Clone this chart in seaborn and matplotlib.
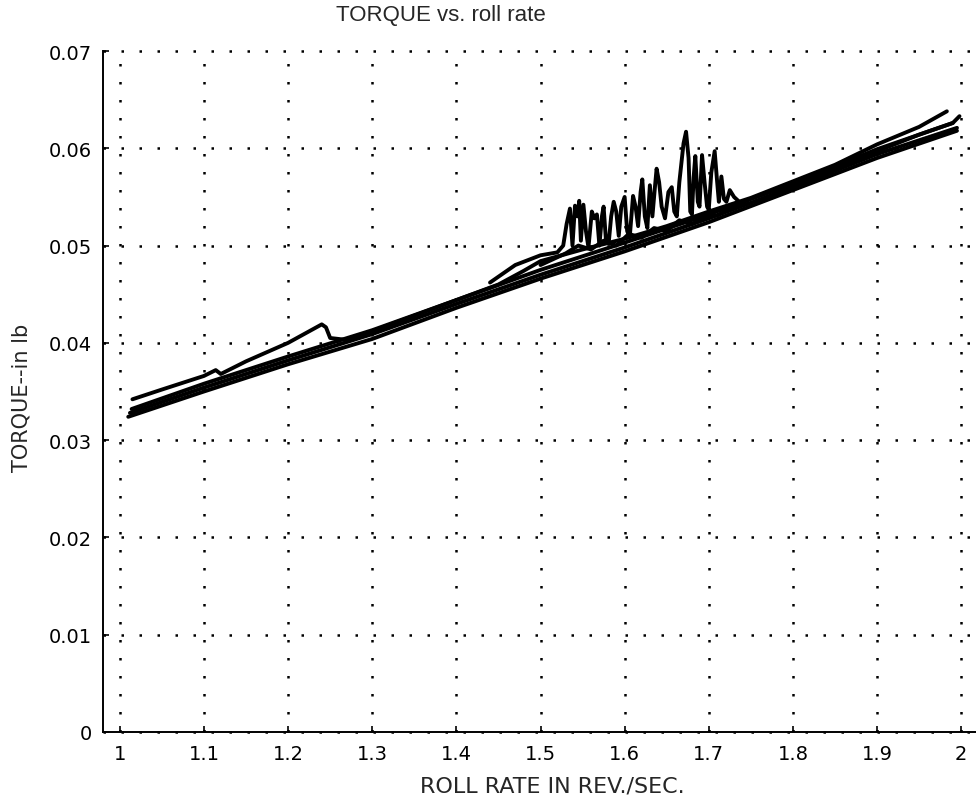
import numpy as np
import pandas as pd
import matplotlib
matplotlib.use("Agg")
import matplotlib.pyplot as plt
import seaborn as sns

# Roll-rate sweeps (rev/sec) and measured torque (in-lb), one list pair per run
run1_x = [1.010, 1.10, 1.20, 1.30, 1.40, 1.50, 1.60, 1.70, 1.80, 1.90, 1.995]
run1_y = [0.0324, 0.0350, 0.0378, 0.0404, 0.0436, 0.0466, 0.0494, 0.0524, 0.0557, 0.0590, 0.0618]

run2_x = [1.012, 1.10, 1.20, 1.30, 1.40, 1.50, 1.60, 1.70, 1.80, 1.90, 1.995]
run2_y = [0.0328, 0.0354, 0.0382, 0.0409, 0.0440, 0.0470, 0.0498, 0.0528, 0.0560, 0.0594, 0.0621]

run3_x = [1.014, 1.10, 1.20, 1.30, 1.40, 1.50, 1.60, 1.70, 1.80, 1.90, 1.990, 1.998]
run3_y = [0.0332, 0.0358, 0.0386, 0.0413, 0.0444, 0.0475, 0.0503, 0.0532, 0.0564, 0.0599, 0.0626, 0.0633]

run4_x = [1.015, 1.05, 1.10, 1.114, 1.12, 1.15, 1.20, 1.24, 1.245, 1.25, 1.27, 1.30,
          1.35, 1.40, 1.45, 1.48, 1.50, 1.55, 1.60, 1.65, 1.70, 1.75, 1.80, 1.85,
          1.90, 1.95, 1.983]
run4_y = [0.0342, 0.0352, 0.0366, 0.0372, 0.0368, 0.0381, 0.0400, 0.0419, 0.0416, 0.0405,
          0.0403, 0.0412, 0.0428, 0.0444, 0.0460, 0.0474, 0.0484, 0.0496, 0.0507, 0.0520,
          0.0535, 0.0549, 0.0566, 0.0583, 0.0604, 0.0622, 0.0638]

run5_x = [1.44, 1.47, 1.50, 1.52, 1.527, 1.531, 1.535, 1.538, 1.541, 1.544, 1.546, 1.548,
          1.551, 1.554, 1.557, 1.561, 1.564, 1.567, 1.570, 1.573, 1.575, 1.578, 1.581,
          1.584, 1.587, 1.590, 1.593, 1.596, 1.600, 1.603, 1.606, 1.610, 1.613, 1.616,
          1.619, 1.621, 1.624, 1.627, 1.630, 1.633, 1.636, 1.638, 1.641, 1.644, 1.648,
          1.652, 1.656, 1.659, 1.662, 1.665, 1.667, 1.670, 1.673, 1.676, 1.678, 1.680,
          1.682, 1.684, 1.687, 1.689, 1.692, 1.695, 1.698, 1.700, 1.703, 1.707, 1.710,
          1.712, 1.715, 1.718, 1.721, 1.725, 1.730, 1.735]
run5_y = [0.0462, 0.0480, 0.0490, 0.0493, 0.0500, 0.0522, 0.0538, 0.0500, 0.0541, 0.0530,
          0.0546, 0.0505, 0.0542, 0.0515, 0.0498, 0.0535, 0.0528, 0.0532, 0.0500, 0.0530,
          0.0540, 0.0503, 0.0502, 0.0530, 0.0545, 0.0535, 0.0510, 0.0540, 0.0550, 0.0515,
          0.0508, 0.0551, 0.0540, 0.0520, 0.0555, 0.0568, 0.0530, 0.0518, 0.0562, 0.0530,
          0.0560, 0.0579, 0.0565, 0.0540, 0.0528, 0.0555, 0.0560, 0.0535, 0.0530, 0.0565,
          0.0581, 0.0605, 0.0617, 0.0590, 0.0535, 0.0532, 0.0570, 0.0592, 0.0545, 0.0540,
          0.0593, 0.0565, 0.0540, 0.0537, 0.0575, 0.0597, 0.0565, 0.0545, 0.0571, 0.0548,
          0.0545, 0.0557, 0.0550, 0.0546]

run6_x = [1.50, 1.53, 1.545, 1.56, 1.575, 1.59, 1.605, 1.62, 1.635, 1.65, 1.665, 1.68,
          1.695, 1.71, 1.73, 1.75, 1.80, 1.85, 1.90, 1.95, 1.99]
run6_y = [0.0480, 0.0492, 0.0500, 0.0496, 0.0505, 0.0500, 0.0512, 0.0508, 0.0518, 0.0515,
          0.0526, 0.0522, 0.0530, 0.0531, 0.0540, 0.0548, 0.0563, 0.0579, 0.0597, 0.0614, 0.0626]

runs = {
    "run 1": (run1_x, run1_y),
    "run 2": (run2_x, run2_y),
    "run 3": (run3_x, run3_y),
    "run 4": (run4_x, run4_y),
    "run 5": (run5_x, run5_y),
    "run 6": (run6_x, run6_y),
}

x_ticks = [1.0, 1.1, 1.2, 1.3, 1.4, 1.5, 1.6, 1.7, 1.8, 1.9, 2.0]
x_tick_labels = ["1", "1.1", "1.2", "1.3", "1.4", "1.5", "1.6", "1.7", "1.8", "1.9", "2"]
y_ticks = [0.0, 0.01, 0.02, 0.03, 0.04, 0.05, 0.06, 0.07]
y_tick_labels = ["0", "0.01", "0.02", "0.03", "0.04", "0.05", "0.06", "0.07"]

frames = []
for name, (xs, ys) in runs.items():
    frames.append(pd.DataFrame({"roll_rate": xs, "torque": ys, "run": name}))
df = pd.concat(frames, ignore_index=True)

sns.set_style("ticks")
plt.rcParams["font.family"] = ["DejaVu Sans"]

W, H = 976, 804
fig = plt.figure(figsize=(W / 100, H / 100), dpi=100)
left, right, top, bottom = 103, 978, 52, 733
ax = fig.add_axes([left / W, 1 - bottom / H, (right - left) / W, (bottom - top) / H])

sns.lineplot(data=df, x="roll_rate", y="torque", units="run", estimator=None,
             sort=False, color="black", linewidth=2.8, ax=ax, legend=False)

ax.set_xlim(0.98, 2.02)
ax.set_ylim(0.0, 0.07)
ax.set_xticks(x_ticks)
ax.set_xticklabels(x_tick_labels)
ax.set_yticks(y_ticks)
ax.set_yticklabels(y_tick_labels)
ax.set_xlabel("")
ax.set_ylabel("")

ax.tick_params(direction="in", length=4, width=1.2, colors="black",
               labelsize=14, top=False, right=False)
ax.tick_params(axis="x", pad=9)
ax.tick_params(axis="y", pad=8)

for side in ("top", "right"):
    ax.spines[side].set_visible(False)
for side in ("left", "bottom"):
    ax.spines[side].set_color("black")
    ax.spines[side].set_linewidth(1.4)

ax.grid(True, color="black", linestyle=(0, (1, 6.2)), linewidth=1.8)
for gl in ax.get_xgridlines() + ax.get_ygridlines():
    gl.set_clip_on(False)
ax.set_axisbelow(True)

fig.text(441 / W, 1 - 15 / H, "TORQUE vs. roll rate", ha="center", va="center",
         fontsize=16, family=["Liberation Sans", "DejaVu Sans"])
fig.text(552 / W, 1 - 787 / H, "ROLL RATE IN REV./SEC.", ha="center", va="center",
         fontsize=16)
fig.text(22 / W, 1 - 398 / H, "TORQUE--in lb", ha="center", va="center",
         rotation=90, fontsize=15)

fig.savefig("out.png", dpi=100, facecolor="white")
